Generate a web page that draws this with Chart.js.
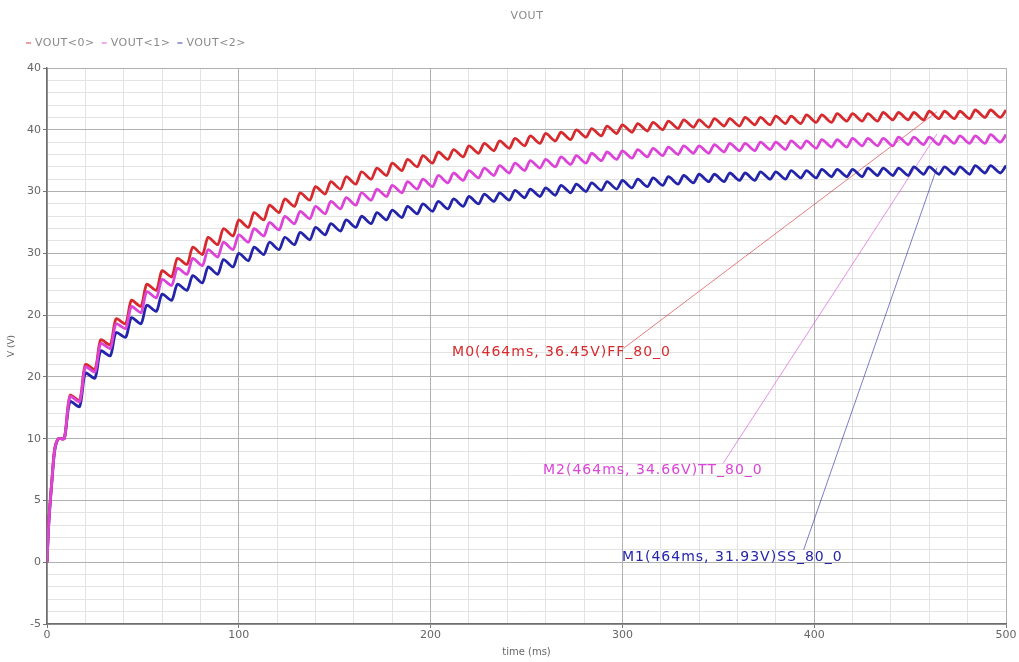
<!DOCTYPE html>
<html>
<head>
<meta charset="utf-8">
<title>VOUT</title>
<script src="https://cdn.jsdelivr.net/npm/chart.js@4/dist/chart.umd.min.js"></script>
<style>
    html, body { margin: 0; padding: 0; background: #fff; }
    #wrap { width: 1019px; height: 662px; }
</style>
</head>
<body>
<div id="wrap"><canvas id="voutChart" width="1019" height="662"></canvas></div>
<script>
// transient sim, time in ms
const timeMs = [0, 1, 2.5, 4, 6,
    9, 12, 17, 20, 25, 28, 33, 36, 41, 44, 49, 52, 57, 60, 65, 68, 73, 76, 81, 84, 89, 92, 97, 100,
    105, 108, 113, 116, 121, 124, 129, 132, 137, 140, 145, 148, 153, 156, 161, 164, 169, 172, 177, 180,
    185, 188, 193, 196, 201, 204, 209, 212, 217, 220, 225, 228, 233, 236, 241, 244, 249, 252, 257, 260,
    265, 268, 273, 276, 281, 284, 289, 292, 297, 300, 305, 308, 313, 316, 321, 324, 329, 332, 337, 340,
    345, 348, 353, 356, 361, 364, 369, 372, 377, 380, 385, 388, 393, 396, 401, 404, 409, 412, 417, 420,
    425, 428, 433, 436, 441, 444, 449, 452, 457, 460, 465, 468, 473, 476, 481, 484, 489, 492, 497, 500];

const vout0 = [0, 3.5, 6.6, 9.2, 10.0,
    10.0, 13.5, 13.1, 16.0, 15.6, 18.0, 17.6, 19.7, 19.3, 21.2, 20.7, 22.5, 22.0, 23.6, 23.1, 24.6, 24.1, 25.5, 24.9, 26.3, 25.7, 27.0, 26.4, 27.7,
    27.1, 28.3, 27.7, 28.9, 28.3, 29.4, 28.8, 29.9, 29.3, 30.4, 29.8, 30.8, 30.2, 31.2, 30.6, 31.6, 31.0, 31.9, 31.3, 32.3,
    31.7, 32.6, 32.0, 32.9, 32.3, 33.2, 32.6, 33.4, 32.8, 33.7, 33.1, 33.9, 33.3, 34.1, 33.5, 34.3, 33.7, 34.5, 33.9, 34.7,
    34.1, 34.8, 34.2, 35.0, 34.4, 35.1, 34.5, 35.3, 34.7, 35.4, 34.8, 35.5, 34.9, 35.6, 35.0, 35.7, 35.1, 35.8, 35.2, 35.8,
    35.2, 35.9, 35.3, 35.9, 35.3, 36.0, 35.4, 36.0, 35.4, 36.1, 35.5, 36.1, 35.5, 36.2, 35.6, 36.2, 35.6, 36.3, 35.7, 36.3,
    35.7, 36.3, 35.7, 36.4, 35.8, 36.4, 35.8, 36.4, 35.8, 36.5, 35.9, 36.5, 35.9, 36.5, 35.9, 36.6, 36.0, 36.6, 36.0, 36.6];

const vout1 = [0, 3.4, 6.5, 9.1, 10.0,
    10.0, 13.4, 13.0, 15.8, 15.4, 17.7, 17.3, 19.3, 18.9, 20.7, 20.2, 21.9, 21.4, 22.9, 22.4, 23.8, 23.3, 24.6, 24.0, 25.3, 24.7, 25.9, 25.3, 26.5,
    25.9, 27.0, 26.4, 27.5, 26.9, 28.0, 27.4, 28.4, 27.8, 28.8, 28.2, 29.2, 28.6, 29.5, 28.9, 29.9, 29.3, 30.2, 29.6, 30.5,
    29.9, 30.8, 30.2, 31.0, 30.4, 31.3, 30.7, 31.5, 30.9, 31.7, 31.1, 31.9, 31.3, 32.1, 31.5, 32.3, 31.7, 32.5, 31.9, 32.6,
    32.0, 32.8, 32.2, 32.9, 32.3, 33.1, 32.5, 33.2, 32.6, 33.3, 32.7, 33.4, 32.8, 33.5, 32.9, 33.6, 33.0, 33.7, 33.1, 33.7,
    33.1, 33.8, 33.2, 33.9, 33.3, 33.9, 33.3, 34.0, 33.4, 34.0, 33.4, 34.1, 33.5, 34.1, 33.5, 34.2, 33.6, 34.2, 33.6, 34.3,
    33.7, 34.3, 33.7, 34.3, 33.7, 34.4, 33.8, 34.4, 33.8, 34.4, 33.8, 34.5, 33.9, 34.5, 33.9, 34.5, 33.9, 34.6, 34.0, 34.6];

const vout2 = [0, 3.3, 6.4, 9.0, 10.0,
    10.0, 13.0, 12.6, 15.3, 14.9, 17.1, 16.7, 18.6, 18.2, 19.8, 19.3, 20.8, 20.3, 21.7, 21.2, 22.5, 22.0, 23.2, 22.6, 23.9, 23.3, 24.5, 23.9, 25.0,
    24.4, 25.5, 24.9, 25.9, 25.3, 26.3, 25.7, 26.7, 26.1, 27.1, 26.5, 27.4, 26.8, 27.7, 27.1, 28.0, 27.4, 28.3, 27.7, 28.5,
    27.9, 28.8, 28.2, 29.0, 28.4, 29.2, 28.6, 29.4, 28.8, 29.6, 29.0, 29.8, 29.2, 29.9, 29.3, 30.1, 29.5, 30.2, 29.6, 30.3,
    29.7, 30.5, 29.9, 30.6, 30.0, 30.7, 30.1, 30.8, 30.2, 30.9, 30.3, 31.0, 30.4, 31.1, 30.5, 31.2, 30.6, 31.3, 30.7, 31.4,
    30.8, 31.4, 30.8, 31.5, 30.9, 31.5, 30.9, 31.6, 31.0, 31.6, 31.0, 31.7, 31.1, 31.7, 31.1, 31.8, 31.2, 31.8, 31.2, 31.8,
    31.2, 31.9, 31.3, 31.9, 31.3, 31.9, 31.3, 32.0, 31.4, 32.0, 31.4, 32.0, 31.4, 32.0, 31.4, 32.1, 31.5, 32.1, 31.5, 32.1];

const seriesNames = ['VOUT<0>', 'VOUT<1>', 'VOUT<2>'];
const seriesColors = ['#d62a2e', '#dc44d8', '#2424aa'];

// y tick labels as printed on the plot
const yTickValues = [40, 35, 30, 25, 20, 15, 10, 5, 0, -5];
const yTickLabels = ['40', '40', '30', '30', '20', '20', '10', '5', '0', '-5'];

// markers placed at 464 ms
const markerNames = ['M0', 'M2', 'M1'];
const markerSeries = [0, 1, 2];
const markerTime = 464;
const markerValues = [36.45, 34.66, 31.93];
const markerCorners = ['FF_80_0', 'TT_80_0', 'SS_80_0'];
const markerLabelTime = [211.2, 258.6, 299.8];
const markerLabelVolt = [17.0, 7.45, 0.4];
const markerLeaderTime = [300.5, 352.5, 394.5];
const markerLeaderVolt = [17.3, 8.0, 1.0];

function toPoints(values) {
    return timeMs.map((t, i) => ({ x: t, y: values[i] }));
}

function hexAlpha(hex, a) {
    const r = parseInt(hex.slice(1, 3), 16), g = parseInt(hex.slice(3, 5), 16), b = parseInt(hex.slice(5, 7), 16);
    return `rgba(${r}, ${g}, ${b}, ${a})`;
}

const seriesData = [vout0, vout1, vout2];
const datasets = seriesData.map((vals, i) => ({
    label: seriesNames[i],
    data: toPoints(vals),
    borderColor: seriesColors[i],
    borderWidth: 2.8,
    pointRadius: 0,
    tension: 0.25,
    order: i === 1 ? 0 : 1
}));

markerNames.forEach((name, i) => {
    datasets.push({
        label: name,
        data: [
            { x: markerLeaderTime[i], y: markerLeaderVolt[i] },
            { x: markerTime, y: markerValues[i] }
        ],
        borderColor: hexAlpha(seriesColors[markerSeries[i]], 0.6),
        borderWidth: 1,
        pointRadius: 0,
        tension: 0,
        order: 2
    });
});

const markerLabelPlugin = {
    id: 'markerLabels',
    afterDatasetsDraw(chart) {
        const { ctx, scales: { x, y } } = chart;
        ctx.save();
        ctx.font = '14px "DejaVu Sans"';
        ctx.letterSpacing = '1px';
        ctx.textBaseline = 'middle';
        ctx.textAlign = 'left';
        markerNames.forEach((name, i) => {
            const text = `${name}(${markerTime}ms, ${markerValues[i].toFixed(2)}V)${markerCorners[i]}`;
            ctx.fillStyle = seriesColors[markerSeries[i]];
            ctx.fillText(text, x.getPixelForValue(markerLabelTime[i]), y.getPixelForValue(markerLabelVolt[i]));
        });
        ctx.restore();
    }
};

const headerPlugin = {
    id: 'header',
    afterDraw(chart) {
        const ctx = chart.ctx;
        ctx.save();
        ctx.font = '11px "DejaVu Sans"';
        ctx.letterSpacing = '0.5px';
        ctx.fillStyle = '#8a8a8a';
        ctx.textAlign = 'center';
        ctx.textBaseline = 'middle';
        ctx.fillText('VOUT', 527, 16);

        ctx.textAlign = 'left';
        let lx = 26;
        seriesNames.forEach((name, i) => {
            ctx.strokeStyle = hexAlpha(seriesColors[i], 0.6);
            ctx.lineWidth = 1.5;
            ctx.beginPath();
            ctx.moveTo(lx, 43);
            ctx.lineTo(lx + 5, 43);
            ctx.stroke();
            ctx.fillStyle = '#8a8a8a';
            ctx.fillText(name, lx + 9, 43);
            lx += ctx.measureText(name).width + 16;
        });
        ctx.restore();
    }
};

new Chart(document.getElementById('voutChart').getContext('2d'), {
    type: 'line',
    data: { datasets: datasets },
    options: {
        responsive: false,
        animation: false,
        devicePixelRatio: 1,
        layout: { padding: { top: 68, right: 13, bottom: 0, left: 6 } },
        plugins: {
            legend: { display: false },
            title: { display: false },
            tooltip: { enabled: false }
        },
        scales: {
            xMinor: {
                type: 'linear', position: 'bottom', min: 0, max: 500,
                ticks: { display: false, stepSize: 20 },
                grid: { color: '#e3e3e3', drawTicks: false, z: -2 },
                border: { display: false },
                afterFit: s => { s.height = 0; }
            },
            yMinor: {
                type: 'linear', position: 'left', min: -5, max: 40,
                ticks: { display: false, stepSize: 1 },
                grid: { color: '#e3e3e3', drawTicks: false, z: -2 },
                border: { display: false },
                afterFit: s => { s.width = 0; }
            },
            x: {
                type: 'linear', position: 'bottom', min: 0, max: 500,
                ticks: { stepSize: 100, color: '#666', font: { family: 'DejaVu Sans', size: 11 }, padding: 1, maxRotation: 0 },
                grid: { color: '#b0b0b0', tickColor: '#777', tickLength: 4 },
                border: { color: '#6e6e6e', width: 1.5 },
                title: { display: true, text: 'time (ms)', color: '#666', font: { family: 'DejaVu Sans', size: 10 }, padding: { top: 0, bottom: 4 } },
                afterFit: s => { s.height = 38; }
            },
            y: {
                type: 'linear', position: 'left', min: -5, max: 40,
                afterBuildTicks: s => { s.ticks = yTickValues.map(v => ({ value: v })); },
                ticks: {
                    color: '#666', font: { family: 'DejaVu Sans', size: 11 }, padding: 2,
                    callback: v => yTickLabels[yTickValues.indexOf(v)]
                },
                grid: { color: '#b0b0b0', tickColor: '#777', tickLength: 4 },
                border: { color: '#6e6e6e', width: 1.5 },
                title: { display: true, text: 'V (V)', color: '#666', font: { family: 'DejaVu Sans', size: 9 }, padding: 0 },
                afterFit: s => { s.width = 41; }
            }
        }
    },
    plugins: [markerLabelPlugin, headerPlugin]
});
</script>
</body>
</html>
